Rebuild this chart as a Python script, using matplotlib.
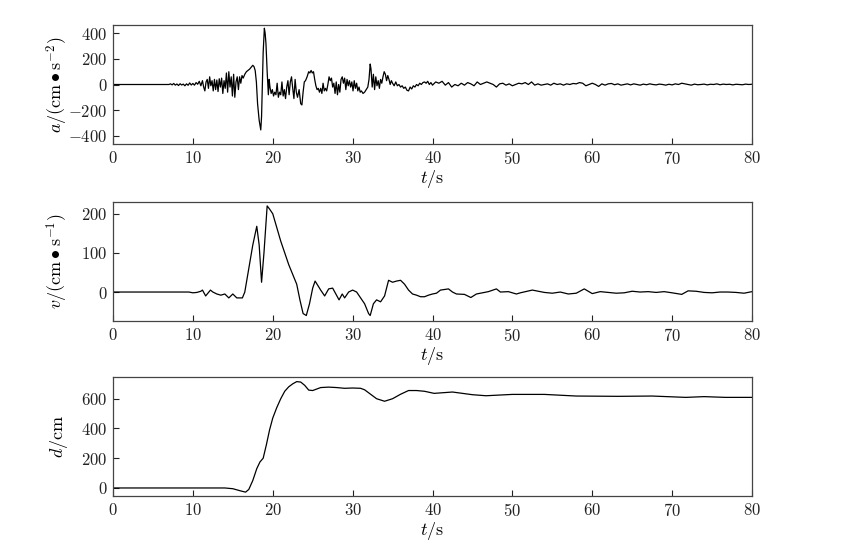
import matplotlib
matplotlib.use("Agg")
import matplotlib.pyplot as plt

plt.rcParams['font.family'] = ['cmr10', 'DejaVu Serif']
plt.rcParams['mathtext.fontset'] = 'cm'
plt.rcParams['axes.formatter.use_mathtext'] = True
plt.rcParams['axes.unicode_minus'] = True

# ---------------- data ----------------
t_acc = [0, 7.0, 7.2, 7.4, 7.6, 7.8, 8.0, 8.2, 8.4, 8.6, 8.8, 9.0, 9.2, 9.4, 9.6, 9.8,
         10.0, 10.2, 10.4, 10.6, 10.8, 11.0, 11.2, 11.35, 11.5, 11.65, 11.8, 11.95,
         12.1, 12.25, 12.4, 12.55, 12.7, 12.85, 13.0, 13.15, 13.3, 13.45, 13.6, 13.75,
         13.9, 14.05, 14.2, 14.35, 14.5, 14.65, 14.8, 14.95, 15.1, 15.25, 15.4, 15.55,
         15.7, 15.85, 16.0, 16.15, 16.3, 16.5, 16.7, 16.9, 17.1, 17.3, 17.5, 17.65,
         17.8, 17.95, 18.1, 18.3, 18.5, 18.6, 18.7, 18.8, 18.95, 19.05, 19.15, 19.3,
         19.45, 19.55, 19.65, 19.8, 19.95, 20.1, 20.25, 20.4, 20.55, 20.7, 20.85, 21.0,
         21.15, 21.3, 21.45, 21.6, 21.75, 21.9, 22.05, 22.2, 22.35, 22.5, 22.65, 22.8,
         22.95, 23.1, 23.3, 23.5, 23.65, 23.8, 23.95, 24.1, 24.3, 24.5, 24.65, 24.8,
         24.95, 25.1, 25.25, 25.4, 25.55, 25.7, 25.85, 26.0, 26.15, 26.3, 26.45, 26.6,
         26.75, 26.9, 27.05, 27.2, 27.35, 27.5, 27.65, 27.8, 27.95, 28.1, 28.25, 28.4,
         28.55, 28.7, 28.85, 29.0, 29.15, 29.3, 29.45, 29.6, 29.75, 29.9, 30.05, 30.2,
         30.35, 30.5, 30.65, 30.8, 30.95, 31.1, 31.3, 31.5, 31.7, 31.9, 32.05, 32.2,
         32.3, 32.45, 32.6, 32.75, 32.9, 33.05, 33.2, 33.35, 33.5, 33.65, 33.8, 33.95,
         34.1, 34.25, 34.4, 34.55, 34.7, 34.85, 35.0, 35.2, 35.4, 35.6, 35.8, 36.0,
         36.2, 36.4, 36.6, 36.8, 37.0, 37.2, 37.4, 37.6, 37.8, 38.0, 38.2, 38.4, 38.6,
         38.8, 39.0, 39.2, 39.4, 39.6, 39.8, 40.0,
         40.4, 40.8, 41.2, 41.6, 42.0, 42.4, 42.8, 43.2, 43.6, 44.0, 44.4, 44.8, 45.2,
         45.6, 46.0, 46.4, 46.8, 47.2, 47.6, 48.0, 48.4, 48.8, 49.2, 49.6, 50.0, 50.4,
         50.8, 51.2, 51.6, 52.0, 52.4, 52.8, 53.2, 53.6, 54.0, 54.4, 54.8, 55.2, 55.6,
         56.0, 56.4, 56.8, 57.2, 57.6, 58.0, 58.4, 58.8, 59.2, 59.6, 60.0, 60.4, 60.8,
         61.2, 61.6, 62.0, 62.4, 62.8, 63.2, 63.6, 64.0, 64.4, 64.8, 65.2, 65.6, 66.0,
         66.4, 66.8, 67.2, 67.6, 68.0, 68.4, 68.8, 69.2, 69.6, 70.0, 70.4, 70.8, 71.2,
         71.6, 72.0, 72.4, 72.8, 73.2, 73.6, 74.0, 74.4, 74.8, 75.2, 75.6, 76.0, 76.4,
         76.8, 77.2, 77.6, 78.0, 78.4, 78.8, 79.2, 79.6, 80.0]
acc = [0, 0, 5, -3, 8, -5, 4, -8, 6, -4, 3, -10, 5, -6, 12, -4,
       8, -5, 15, 2, 25, -10, 30, -20, -50, 20, 40, -30,
       60, -10, 30, -50, 40, -40, 35, -55, 45, -20, 50, -70,
       30, -30, 90, -60, 100, -20, 60, -90, 80, -100, 20, 60,
       -40, 60, 10, 70, 50, 80, 100, 110, 120, 135, 150, 140,
       110, 20, -150, -280, -355, -250, 0, 250, 440, 400, 320, 100,
       -80, 40, -20, -70, -40, -90, -60, -80, 10, -100, -60, -80,
       20, -90, -40, -110, -20, 30, -80, 20, 60, -30, -110, 40,
       -60, -100, -40, -150, -160, -60, 20, 30, 60, 100, 90, 110,
       90, 100, 40, -10, -40, -30, -60, -30, -70, 10, -50, -30,
       -50, 0, 60, 30, 50, -20, 10, -70, 20, -80, 0, -60,
       40, 60, 10, 50, -40, 40, -10, 30, -20, 20, -50, 30,
       -30, 10, -50, -20, -60, -50, -70, -60, -40, -20, 40, 160,
       120, -20, 80, -40, 60, -10, 30, -30, 40, 10, 60, 100,
       80, 30, 70, 40, 0, 30, 10, -10, 20, -10, 0, -20,
       -10, -30, -20, -45, -50, -20, -35, -10, -20, 0, -10, 10, 0,
       15, 20, 10, 25, 0, 15, -5,
       20, 10, 25, -5, 15, -20, 0, -10, 10, -5, 15, 5, -10,
       20, 0, 10, 20, 10, 0, -20, 5, 10, -5, 5, -10, 0,
       10, 5, 15, 0, 20, -5, 5, -5, 0, 5, -5, 10, 0,
       5, -5, 5, 0, 8, 5, 15, 10, -10, 0, 10, 0, -15,
       5, -5, 5, 8, -2, 5, -5, 0, 5, -3, 5, 0, -5,
       3, -2, 5, 0, -3, 3, 0, -5, 2, -3, 5, 0, 10,
       5, 0, -5, 3, -2, 0, 3, -3, 2, 0, 5, -2, 3,
       0, 2, -3, 2, 0, -2, 3, 0, 2]

t_vel = [0, 9.5, 10.0, 10.5, 11.0, 11.2, 11.6, 12.2, 12.5, 13.0, 13.5, 14.0, 14.5,
         15.0, 15.5, 16.2, 16.5, 17.0, 17.5, 18.0, 18.3, 18.6, 18.9, 19.3, 19.6,
         20.0, 20.5, 21.0, 21.5, 22.0, 22.5, 23.0, 23.4, 23.8, 24.2, 24.6, 25.0,
         25.3, 25.7, 26.0, 26.5, 27.0, 27.5, 27.9, 28.3, 28.7, 29.0, 29.5, 30.0,
         30.5, 31.0, 31.5, 32.0, 32.2, 32.6, 33.0, 33.5, 34.0, 34.5, 35.0, 35.5,
         36.0, 36.5, 37.0, 37.5, 38.0, 38.5, 39.0, 39.5, 40.0, 40.5, 41.0, 42.0,
         42.5, 43.0, 44.0, 44.8, 45.5, 46.0, 47.0, 48.0, 48.5, 49.5, 50.5, 51.0,
         52.5, 53.0, 54.0, 55.0, 56.0, 57.0, 58.0, 59.0, 60.0, 61.0, 62.0, 63.0,
         64.0, 65.0, 66.0, 67.0, 68.0, 69.0, 70.0, 71.2, 72.0, 73.0, 74.0, 75.0,
         76.0, 77.0, 78.0, 79.0, 80.0]
vel = [0, 0, -2, -1, 2, 5, -10, 5, 0, -5, -8, -5, -15,
       -5, -15, -15, 0, 60, 120, 168, 120, 25, 100, 220, 212,
       200, 165, 130, 100, 70, 45, 20, -20, -55, -60, -30, 10,
       28, 15, 5, -10, 8, 10, -5, -20, -5, -15, 0, 5,
       0, -15, -30, -55, -60, -30, -20, -25, -10, 30, 25, 28,
       30, 20, 5, -5, -8, -12, -12, -8, -5, -3, 5, 8,
       0, -5, -6, -14, -5, -3, 1, 8, 0, 1, -5, -2,
       5, 3, -1, -3, 0, -5, -3, 8, -4, 1, -1, -3,
       -2, 2, 0, 1, -1, 1, -2, -6, 3, 2, -1, -2,
       0, 0, -1, -3, 1]

t_dis = [0, 14.0, 15.0, 16.0, 16.6, 17.0, 17.5, 18.0, 18.4, 18.8, 19.2, 19.6, 20.0,
         20.5, 21.0, 21.5, 22.0, 22.5, 23.0, 23.5, 24.0, 24.5, 25.0, 25.5, 26.0,
         27.0, 28.0, 29.0, 30.0, 31.0, 31.5, 32.0, 33.0, 34.0, 35.0, 36.0, 37.0,
         38.0, 39.0, 40.2, 42.5, 45.0, 46.7, 50.0, 54.0, 58.0, 63.3, 67.5, 71.7,
         74.0, 76.7, 80.0]
dis = [0, 0, -5, -20, -28, -10, 50, 130, 175, 200, 290, 390, 470,
       540, 600, 650, 680, 700, 715, 712, 690, 658, 655, 665, 675,
       678, 675, 670, 672, 670, 660, 640, 600, 583, 600, 630, 655,
       655, 650, 636, 645, 627, 620, 629, 629, 618, 616, 618, 609,
       614, 609, 609]

# ---------------- figure ----------------
W, H = 843, 545
fig = plt.figure(figsize=(W / 100, H / 100), dpi=100)

def add_axes(x0, y0, x1, y1):
    return fig.add_axes([x0 / W, 1 - y1 / H, (x1 - x0) / W, (y1 - y0) / H])

ax1 = add_axes(113, 25, 752, 144)
ax2 = add_axes(113, 202, 752, 321)
ax3 = add_axes(113, 377, 752, 496)

spine_col = '#444444'
for ax, tt, yy, ylim, yticks, ylab in [
        (ax1, t_acc, acc, (-465, 465), [-400, -200, 0, 200, 400],
         r'$a/(\mathrm{cm}\bullet\mathrm{s}^{-2})$'),
        (ax2, t_vel, vel, (-74, 230), [0, 100, 200],
         r'$v/(\mathrm{cm}\bullet\mathrm{s}^{-1})$'),
        (ax3, t_dis, dis, (-54, 746), [0, 200, 400, 600],
         r'$d/\mathrm{cm}$')]:
    ax.plot(tt, yy, color='black', lw=0.9)
    ax.set_xlim(0, 80)
    ax.set_ylim(*ylim)
    ax.set_xticks([0, 10, 20, 30, 40, 50, 60, 70, 80])
    ax.set_yticks(yticks)
    ax.tick_params(direction='in', length=4, width=0.8, labelsize=12,
                   colors='#222222', pad=4, top=False, right=False)
    for s in ax.spines.values():
        s.set_color(spine_col)
        s.set_linewidth(0.9)
    ax.set_ylabel(ylab, fontsize=13, labelpad=4)
    ax.set_xlabel(r'$t/\mathrm{s}$', fontsize=13, labelpad=1)
    ax.yaxis.set_label_coords(-0.068, 0.5)

fig.savefig('out.png', dpi=100)
